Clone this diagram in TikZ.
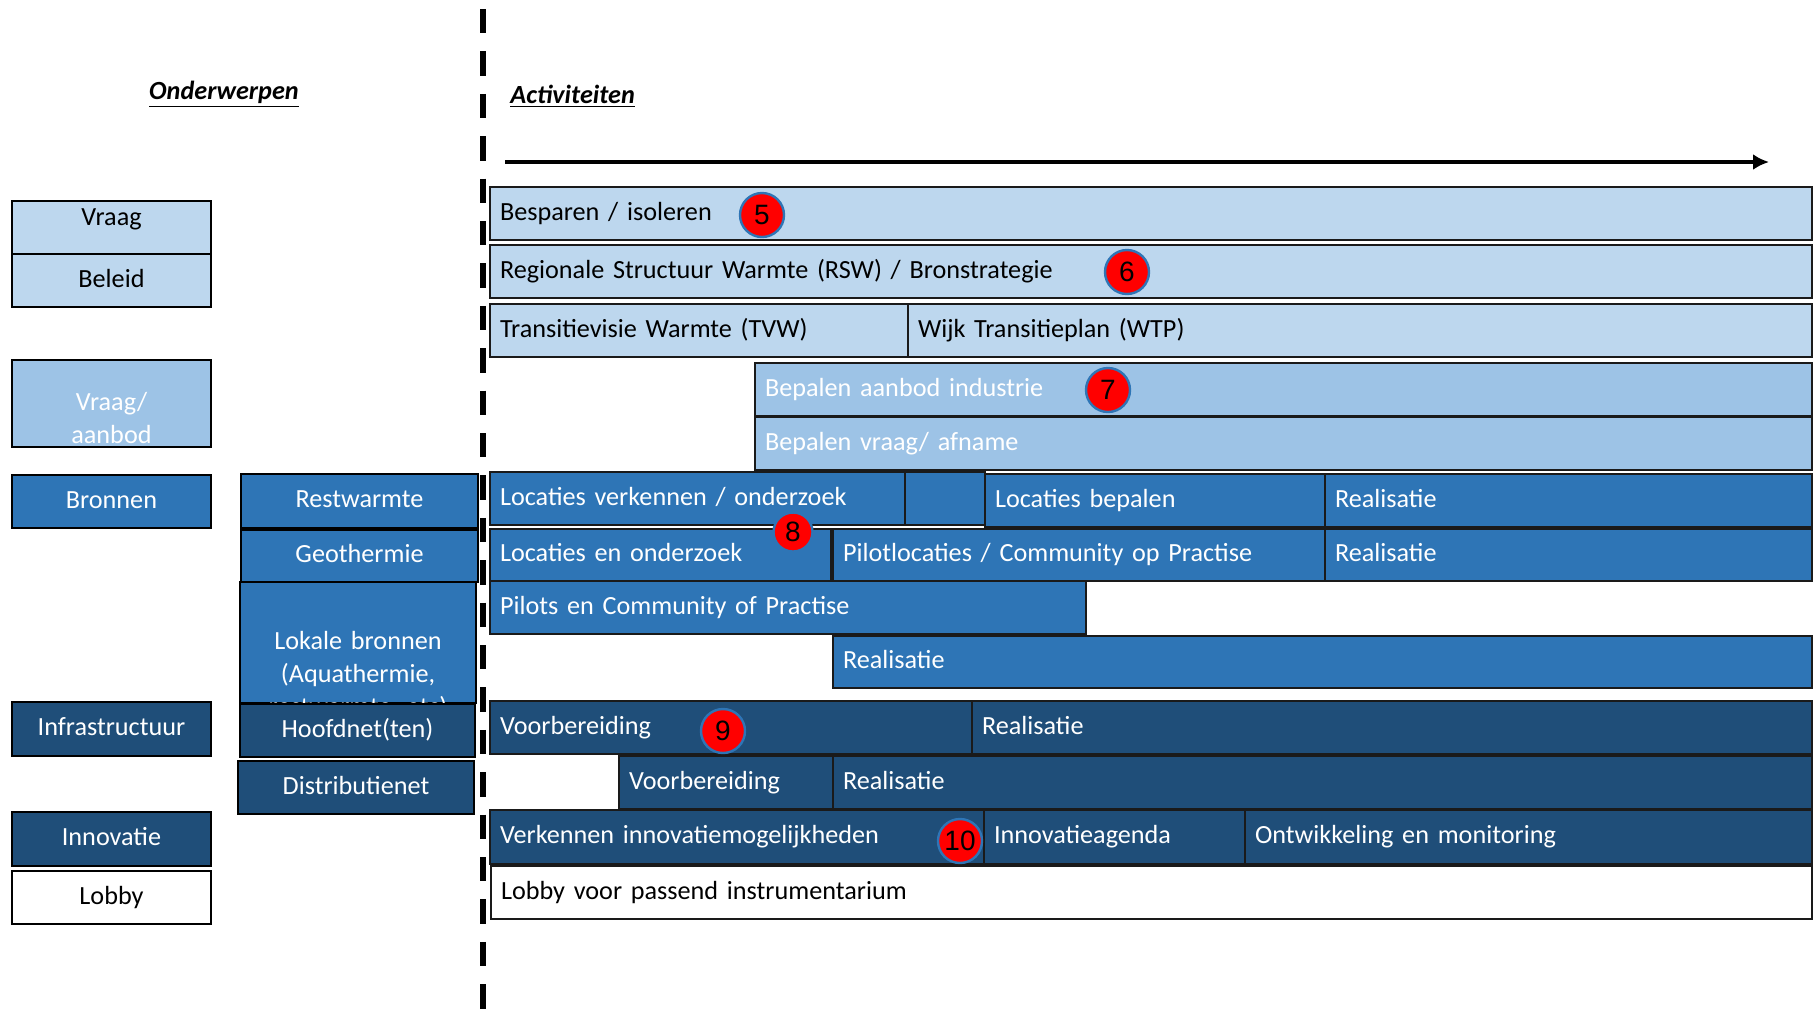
\documentclass[tikz,border=0pt]{standalone}
\usepackage{fontspec}
\setmainfont{Carlito}
\newfontfamily\badgefont{Liberation Sans}
\definecolor{lightb}{HTML}{BDD7EE}
\definecolor{midb}{HTML}{9DC3E6}
\definecolor{blueb}{HTML}{2E75B6}
\definecolor{darkb}{HTML}{1F4E79}
\definecolor{badgeline}{HTML}{2E75B6}
\definecolor{edgeg}{HTML}{1A1A1A}
\tikzset{
  x=0.5pt,y=-0.5pt,
  boxbase/.style={rectangle,inner xsep=0pt,inner ysep=0pt,font=\fontsize{13.1pt}{16pt}\selectfont,text height=9.5pt,text depth=2.6pt},
  lite/.style={fill=lightb,text=black},
  mid/.style={fill=midb,text=white},
  blu/.style={fill=blueb,text=white},
  drk/.style={fill=darkb,text=white},
  wht/.style={fill=white,text=black},
  badge/.style={circle,draw=badgeline,line width=1.2pt,fill=red,text=black,minimum size=22pt,inner sep=0pt,font=\badgefont\fontsize{14pt}{16pt}\selectfont},
  title/.style={inner sep=0pt,font=\fontsize{13.1pt}{16pt}\selectfont\bfseries\itshape},
  divider/.style={line width=3pt,black,dash pattern=on 12.2pt off 9pt},
  timeline/.style={line width=2pt,black,-{Latex[length=8pt,width=8pt]}}
}
\usetikzlibrary{arrows.meta}
% name x1 y1 x2 y2 style text : left-hand boxes, centred text
\newcommand{\cbox}[7]{%
  \pgfmathsetlengthmacro{\bw}{(#4-#2)*0.5pt}\pgfmathsetlengthmacro{\bh}{(#5-#3)*0.5pt}%
  \node[boxbase,#6,draw=black,line width=1.2pt,minimum width=\bw,minimum height=\bh,text width=\bw,align=center,anchor=center] (#1) at ({(#2+#4)/2},{(#3+#5)/2}) {#7};}
% name x1 y1 x2 y2 style text : activity bars, text from the left
\newcommand{\abox}[7]{%
  \pgfmathsetlengthmacro{\bw}{(#4-#2)*0.5pt}\pgfmathsetlengthmacro{\bh}{(#5-#3)*0.5pt}%
  \pgfmathsetlengthmacro{\tw}{(#4-#2)*0.5pt-10pt}%
  \node[boxbase,#6,draw=edgeg,line width=1pt,minimum width=\bw,minimum height=\bh,text width=\tw,align=left,anchor=center,inner xsep=5pt,text height=9.5pt] (#1) at ({(#2+#4)/2},{(#3+#5)/2}) {\strut\smash{#7}};}
\begin{document}
\begin{tikzpicture}
\useasboundingbox (0,0) rectangle (1813,1009);
\fill[white] (0,0) rectangle (1813,1009);
% divider
\coordinate (divtop) at (483,9);
\coordinate (divbot) at (483,1009);
\draw[divider] (divtop) -- (divbot);
% titles
\node[title] (onderwerpen) at (224,94) {\underline{Onderwerpen}};
\node[title,anchor=west] (activiteiten) at (510,96) {\underline{Activiteiten}};
% time arrow
\coordinate (tstart) at (505,162);
\coordinate (tend) at (1769,162);
\draw[timeline] (tstart) -- (tend);
% left column
\cbox{vraag}{12}{201}{211}{290}{lite}{\raisebox{13.5pt}{Vraag}}
\cbox{beleid}{12}{254}{211}{307}{lite}{Beleid}
\cbox{vraaganbod}{12}{360}{211}{447}{mid}{Vraag/\\[0.5pt]aanbod}
\cbox{bronnen}{12}{475}{211}{528}{blu}{Bronnen}
\cbox{infra}{12}{702}{211}{756}{drk}{Infrastructuur}
\cbox{innovatie}{12}{812}{211}{866}{drk}{Innovatie}
\cbox{lobby}{12}{871}{211}{924}{wht}{Lobby}
% second column
\cbox{restwarmte}{241}{474}{478}{528}{blu}{Restwarmte}
\cbox{geothermie}{241}{530}{478}{582}{blu}{Geothermie}
\cbox{lokale}{240}{582}{476}{703}{blu}{Lokale bronnen\\[0.5pt](Aquathermie,\\[0.5pt]restwarmte, etc)}
\cbox{hoofdnet}{240}{704}{475}{757}{drk}{Hoofdnet(ten)}
\cbox{distributie}{238}{761}{474}{814}{drk}{Distributienet}
% activity bars
\abox{besparen}{490}{187}{1812}{240}{lite}{Besparen / isoleren}
\abox{rsw}{490}{245}{1812}{298}{lite}{Regionale Structuur Warmte (RSW) / Bronstrategie}
\abox{tvw}{490}{304}{908}{357}{lite}{Transitievisie Warmte (TVW)}
\abox{wtp}{908}{304}{1812}{357}{lite}{Wijk Transitieplan (WTP)}
\abox{aanbod}{755}{363}{1812}{416}{mid}{Bepalen aanbod industrie}
\abox{afname}{755}{417}{1812}{470}{mid}{Bepalen vraag/ afname}
\abox{verkennen}{490}{472}{905}{525}{blu}{Locaties verkennen / onderzoek}
\abox{verkenextra}{905}{472}{985}{525}{blu}{}
\abox{bepalen}{985}{474}{1325}{527}{blu}{Locaties bepalen}
\abox{realA}{1325}{474}{1812}{527}{blu}{Realisatie}
\abox{lokond}{490}{529}{831}{581}{blu}{Locaties en onderzoek}
\abox{pilotloc}{833}{529}{1325}{581}{blu}{Pilotlocaties / Community op Practise}
\abox{realB}{1325}{529}{1812}{581}{blu}{Realisatie}
\abox{pilots}{490}{581}{1086}{634}{blu}{Pilots en Community of Practise}
\abox{realC}{833}{636}{1812}{688}{blu}{Realisatie}
\abox{voorA}{490}{701}{972}{754}{drk}{Voorbereiding}
\abox{realD}{972}{701}{1812}{754}{drk}{Realisatie}
\abox{voorB}{619}{756}{833}{809}{drk}{Voorbereiding}
\abox{realE}{833}{756}{1812}{809}{drk}{Realisatie}
\abox{innverk}{490}{810}{984}{864}{drk}{Verkennen innovatiemogelijkheden}
\abox{innag}{984}{810}{1245}{864}{drk}{Innovatieagenda}
\abox{ontw}{1245}{810}{1812}{864}{drk}{Ontwikkeling en monitoring}
\abox{lobbybar}{491}{866}{1812}{919}{wht}{Lobby voor passend instrumentarium}
% badges
\node[badge] (b5) at (762,215) {5};
\node[badge] (b6) at (1127,272) {6};
\node[badge] (b7) at (1108,390) {7};
\node[badge,minimum size=19.5pt] (b8) at (793,532) {8};
\node[badge] (b9) at (723,731) {9};
\node[badge] (b10) at (960,841) {10};
\end{tikzpicture}
\end{document}
